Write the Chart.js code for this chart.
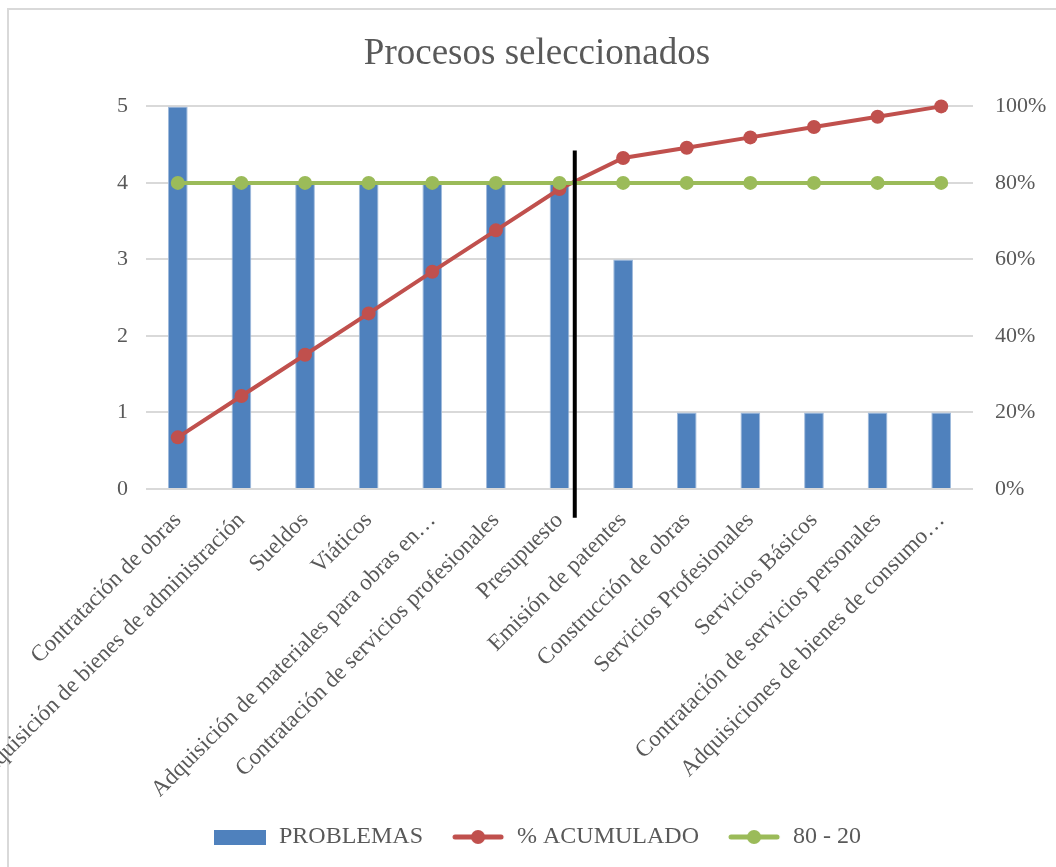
<!DOCTYPE html>
<html lang="es">
<head>
<meta charset="utf-8">
<title>Procesos seleccionados</title>
<script src="https://cdn.jsdelivr.net/npm/chart.js@4.4.1/dist/chart.umd.min.js"></script>
<style>
    html, body { margin: 0; padding: 0; background: #fff; overflow: hidden; }
    .frame { position: absolute; left: 7px; top: 8px; width: 1200px; height: 1000px; border: 2px solid #d9d9d9; }
    .chart-box { position: absolute; left: 0; top: 0; width: 1056px; height: 867px; }
</style>
</head>
<body>
<div class="frame"></div>
<div class="chart-box"><canvas id="pareto" width="1056" height="867"></canvas></div>
<script>
    'use strict';

    const categories = [
        'Contratación de obras',
        'Adquisición de bienes de administración',
        'Sueldos',
        'Viáticos',
        'Adquisición de materiales para obras en…',
        'Contratación de servicios profesionales',
        'Presupuesto',
        'Emisión de patentes',
        'Construcción de obras',
        'Servicios Profesionales',
        'Servicios Básicos',
        'Contratación de servicios personales',
        'Adquisiciones de bienes de consumo…'
    ];
    const problemas = [5, 4, 4, 4, 4, 4, 4, 3, 1, 1, 1, 1, 1];
    const acumulado = [13.5, 24.3, 35.1, 45.9, 56.8, 67.6, 78.4, 86.5, 89.2, 91.9, 94.6, 97.3, 100];
    const corte = [80, 80, 80, 80, 80, 80, 80, 80, 80, 80, 80, 80, 80];
    const leftTicks = [0, 1, 2, 3, 4, 5];
    const rightTicks = [0, 20, 40, 60, 80, 100];
    // black separator drawn between "Presupuesto" and "Emisión de patentes"
    const cutLine = { x: 6.24, from: -7.5, to: 88.5 };

    const BLUE = '#4f81bd', RED = '#c0504d', GREEN = '#9bbb59', TEXT = '#595959', GRID = '#d9d9d9';
    const FONT = "'Liberation Serif', 'Times New Roman', serif";

    // legend swatches: Excel style (box for bars, line + dot for lines)
    function swatch(kind, color) {
        const c = document.createElement('canvas');
        c.width = 54; c.height = 16;
        const g = c.getContext('2d');
        if (kind === 'box') {
            g.fillStyle = color;
            g.fillRect(1, 1, 52, 15);
        } else {
            g.strokeStyle = color; g.lineWidth = 5; g.lineCap = 'round';
            g.beginPath(); g.moveTo(4, 8); g.lineTo(50, 8); g.stroke();
            g.fillStyle = color;
            g.beginPath(); g.arc(27, 8, 7, 0, Math.PI * 2); g.fill();
        }
        return c;
    }

    const cutLinePlugin = {
        id: 'cutLine',
        afterDatasetsDraw(chart) {
            const x = chart.scales.x, y = chart.scales.yRight;
            const px = x.getPixelForValue(cutLine.x);
            const ctx = chart.ctx;
            ctx.save();
            ctx.strokeStyle = '#000';
            ctx.lineWidth = 4;
            ctx.beginPath();
            ctx.moveTo(px, y.getPixelForValue(cutLine.to));
            ctx.lineTo(px, y.getPixelForValue(cutLine.from));
            ctx.stroke();
            ctx.restore();
        }
    };

    const swatches = [swatch('box', BLUE), swatch('line', RED), swatch('line', GREEN)];

    new Chart(document.getElementById('pareto'), {
        data: {
            labels: categories,
            datasets: [
                {
                    type: 'bar', label: 'PROBLEMAS', data: problemas, yAxisID: 'y',
                    backgroundColor: BLUE, borderColor: '#9fbadc', borderWidth: 1,
                    barPercentage: 0.62, categoryPercentage: 0.5, order: 3
                },
                {
                    type: 'line', label: '% ACUMULADO', data: acumulado, yAxisID: 'yRight',
                    borderColor: RED, backgroundColor: RED, borderWidth: 4, clip: false,
                    pointRadius: 7, pointHoverRadius: 7, pointBorderWidth: 0, tension: 0, order: 2
                },
                {
                    type: 'line', label: '80 - 20', data: corte, yAxisID: 'yRight',
                    borderColor: GREEN, backgroundColor: GREEN, borderWidth: 4, clip: false,
                    pointRadius: 7, pointHoverRadius: 7, pointBorderWidth: 0, tension: 0, order: 1
                }
            ]
        },
        options: {
            responsive: false,
            animation: false,
            layout: { padding: { left: 18, right: 0, top: 0, bottom: 8 } },
            plugins: {
                title: {
                    display: true,
                    text: 'Procesos seleccionados',
                    color: TEXT,
                    font: { family: FONT, size: 37, weight: 'normal' },
                    padding: { top: 32, bottom: 30 }
                },
                legend: {
                    position: 'bottom',
                    labels: {
                        color: TEXT,
                        font: { family: FONT, size: 24 },
                        usePointStyle: true,
                        pointStyleWidth: 54,
                        padding: 28,
                        generateLabels(chart) {
                            return chart.data.datasets.map((ds, i) => ({
                                text: ds.label,
                                fillStyle: ds.backgroundColor,
                                strokeStyle: ds.borderColor,
                                lineWidth: 0,
                                pointStyle: swatches[i],
                                fontColor: TEXT,
                                hidden: false,
                                datasetIndex: i
                            }));
                        }
                    }
                },
                tooltip: { enabled: false }
            },
            scales: {
                x: {
                    grid: { display: false },
                    border: { display: false },
                    ticks: {
                        color: TEXT, font: { family: FONT, size: 23 },
                        minRotation: 45, maxRotation: 45, autoSkip: false, padding: 10
                    },
                    afterFit(scale) { scale.height = 308; }
                },
                y: {
                    position: 'left', min: 0, max: 5,
                    afterBuildTicks(scale) { scale.ticks = leftTicks.map(v => ({ value: v })); },
                    grid: { color: GRID, lineWidth: 2, drawTicks: false },
                    border: { display: false },
                    ticks: { color: TEXT, font: { family: FONT, size: 22 }, padding: 18 },
                    afterFit(scale) { scale.width = 128; }
                },
                yRight: {
                    position: 'right', min: 0, max: 100,
                    afterBuildTicks(scale) { scale.ticks = rightTicks.map(v => ({ value: v })); },
                    grid: { display: false, drawTicks: false },
                    border: { display: false },
                    ticks: { color: TEXT, font: { family: FONT, size: 22 }, padding: 22, callback: v => v + '%' },
                    afterFit(scale) { scale.width = 83; }
                }
            }
        },
        plugins: [cutLinePlugin]
    });
</script>
</body>
</html>
